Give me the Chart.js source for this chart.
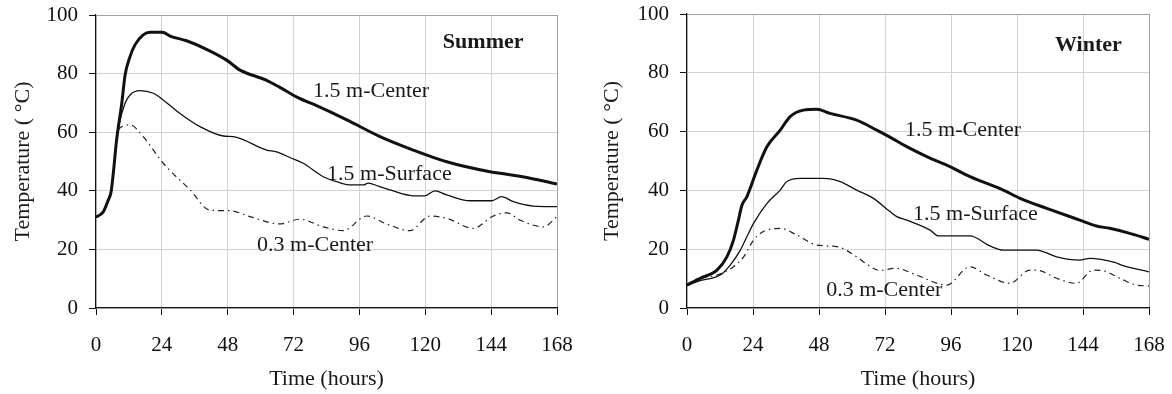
<!DOCTYPE html>
<html>
<head>
<meta charset="utf-8">
<title>Temperature vs time</title>
<script src="https://cdn.jsdelivr.net/npm/chart.js@4.4.1/dist/chart.umd.min.js"></script>
<style>
  html, body { margin: 0; padding: 0; background: #fff; }
  #wrap { position: relative; width: 1172px; height: 394px; }
  .box { position: absolute; top: 0; width: 586px; height: 394px; }
</style>
</head>
<body>
<div id="wrap">
  <div class="box" style="left:0"><canvas id="summer" width="586" height="394"></canvas></div>
  <div class="box" style="left:586px"><canvas id="winter" width="586" height="394"></canvas></div>
</div>
<script>
'use strict';

//////////////////// data ////////////////////
const xTicks = [0, 24, 48, 72, 96, 120, 144, 168];
const yTicks = [0, 20, 40, 60, 80, 100];

// summer
const summerCenterHours = [0, 2.7, 4.5, 5.5, 6.3, 7.5, 9.4, 10.6, 12.4, 14.2, 17.2, 19.7, 24.2, 27, 33, 40.3, 47.6, 52.5, 62, 67, 74, 80, 91.4, 103.5, 115.6, 127.8, 143.6, 147.2, 158.2, 168];
const summerCenterTemp = [31, 32.9, 36.9, 39.7, 46, 57.3, 69.9, 79.5, 85.8, 89.8, 93.2, 94.1, 94.1, 92.8, 91.2, 88.3, 84.6, 81.2, 77.8, 75.3, 71.6, 69.2, 64.2, 58.5, 53.9, 49.9, 46.5, 46, 44.3, 42.3];

const summerSurfaceHours = [0, 2.7, 4.5, 5.5, 6.3, 7.5, 8.5, 10.6, 12.4, 16, 20.9, 24.5, 30.6, 37.9, 46.4, 50, 62.2, 65.8, 71, 75.5, 82.8, 87.7, 92.6, 97.4, 99.2, 102.9, 107.1, 115.6, 119.9, 123.5, 127.8, 136.3, 144.2, 147.8, 152.1, 159.4, 168];
const summerSurfaceTemp = [31, 32.9, 36.9, 39.7, 46, 57.3, 63, 69.9, 72.7, 74.2, 73.3, 71, 66.4, 61.9, 58.7, 58.5, 53.9, 53.3, 51.2, 49.4, 44.8, 43.1, 42, 42, 42.6, 41.6, 40.3, 38.3, 38.3, 40, 38.6, 36.6, 36.6, 38, 36.3, 34.8, 34.6];

const summerShallowHours = [0, 2.7, 4.5, 5.5, 6.5, 8.1, 12.4, 17.2, 24.5, 34.3, 41.5, 48.8, 56.1, 67, 74.3, 82.8, 90.1, 98.6, 105.9, 114.4, 121.7, 127.8, 137.5, 144.8, 149.7, 154.5, 163, 168];
const summerShallowTemp = [31, 32.9, 36.9, 40, 48, 60.8, 62.5, 58.5, 49.4, 40.3, 33.4, 33.2, 31.2, 28.7, 30.3, 27.7, 26.4, 31.4, 28.7, 26.4, 31.4, 30.6, 27.2, 31.4, 32.5, 30, 27.7, 31.2];

// winter
const winterCenterHours = [0, 4.8, 10.9, 14.5, 16.9, 18.7, 20, 21.8, 25.4, 29.1, 33.9, 37.5, 42.3, 47.2, 52, 61.7, 69, 73.8, 79.9, 87.2, 95.6, 102.9, 115, 121.1, 130.8, 142.8, 148.9, 153.7, 161, 168];
const winterCenterTemp = [7.8, 10.1, 12.9, 17.4, 23.1, 29.9, 35, 37.9, 46.9, 54.9, 60.5, 65.1, 67.3, 67.6, 66.2, 63.9, 60.5, 58.1, 54.9, 51.5, 48.1, 44.7, 40.1, 37.3, 33.9, 29.9, 27.9, 27.1, 25.4, 23.4];

const winterSurfaceHours = [0, 4.8, 12.1, 15.7, 19.4, 21.8, 24.2, 29.1, 33.9, 36.3, 41.2, 49.6, 55.7, 61.7, 67.8, 73.8, 76.3, 79.9, 88.4, 91.4, 102.9, 110.2, 115, 127.1, 134.4, 142.8, 146.5, 155.5, 158.6, 168];
const winterSurfaceTemp = [7.8, 9.3, 11.2, 14.6, 19.7, 24.3, 28.8, 35.6, 40.1, 43, 44.1, 44.1, 43, 40.1, 37.3, 32.8, 31.1, 29.9, 26.5, 24.5, 24.5, 21.1, 19.7, 19.7, 17.4, 16.3, 16.9, 15.5, 14.4, 12.3];

const winterShallowHours = [0, 4, 11, 16.9, 20.6, 24.2, 27.8, 33.9, 40, 47.2, 54.5, 61.7, 66, 70, 76, 83.5, 94.4, 102.9, 109, 117.4, 124.7, 128.3, 134.4, 141.6, 147.7, 151.3, 157.4, 163.4, 168];
const winterShallowTemp = [8, 10, 11.2, 14, 17.4, 23.1, 26, 27.1, 24.8, 21.4, 20.9, 17.4, 14.5, 12.8, 13.5, 11.2, 7.8, 14, 11.2, 8.4, 12.9, 12.7, 10.1, 8.4, 12.9, 12.7, 10.1, 7.8, 7.5];

//helper functions
const serif = '"Liberation Serif", "Times New Roman", serif';

function pairs(hours, temps) {
  const out = [];
  for (let i = 0; i < hours.length; i++) {
    out.push({ x: hours[i], y: temps[i] });
  }
  return out;
}

/////////////////// text on the curves ///////////////////
const curveLabels = {
  id: 'curveLabels',
  afterDatasetsDraw(chart, args, opts) {
    const ctx = chart.ctx;
    const xs = chart.scales.x;
    const ys = chart.scales.y;
    ctx.save();
    ctx.fillStyle = '#1a1a1a';
    ctx.textAlign = 'left';
    ctx.textBaseline = 'middle';
    opts.items.forEach(function (l) {
      ctx.font = (l.bold ? 'bold ' : '') + l.size + 'px ' + serif;
      ctx.fillText(l.text, xs.getPixelForValue(l.x), ys.getPixelForValue(l.y));
    });
    ctx.restore();
  }
};

/////////////////// build one chart ///////////////////
function makeChart(id, series, labels, box) {
  const ctx = document.getElementById(id).getContext('2d');
  return new Chart(ctx, {
    type: 'line',
    data: {
      datasets: [
        {
          label: '1.5 m-Center',
          data: pairs(series[0][0], series[0][1]),
          borderColor: '#111',
          borderWidth: 3,
          pointRadius: 0,
          cubicInterpolationMode: 'monotone'
        },
        {
          label: '1.5 m-Surface',
          data: pairs(series[1][0], series[1][1]),
          borderColor: '#111',
          borderWidth: 1.3,
          pointRadius: 0,
          cubicInterpolationMode: 'monotone'
        },
        {
          label: '0.3 m-Center',
          data: pairs(series[2][0], series[2][1]),
          borderColor: '#222',
          borderWidth: 1.2,
          borderDash: [6, 4, 1.5, 4],
          pointRadius: 0,
          cubicInterpolationMode: 'monotone'
        }
      ]
    },
    options: {
      responsive: false,
      animation: false,
      layout: { padding: { left: 0, right: box.padRight, top: box.padTop, bottom: 0 } },
      plugins: {
        legend: { display: false },
        tooltip: { enabled: false },
        curveLabels: { items: labels }
      },
      scales: {
        x: {
          type: 'linear',
          min: 0,
          max: 168,
          afterBuildTicks: function (scale) {
            scale.ticks = xTicks.map(function (v) { return { value: v }; });
          },
          // fixed box, ignore label overhang so the plot lines up
          afterFit: function (scale) {
            scale.height = 86;
            scale.paddingLeft = 0;
            scale.paddingRight = 0;
          },
          ticks: { color: '#111', padding: 18, font: { family: serif, size: 21 } },
          grid: {
            color: function (c) { return c.tick && c.tick.value === 168 ? '#a0a0a0' : '#d2d2d2'; },
            tickColor: '#111',
            tickLength: 7
          },
          border: { color: '#111', width: 1.2 },
          title: {
            display: true,
            text: 'Time (hours)',
            color: '#1a1a1a',
            font: { family: serif, size: 22 },
            padding: { top: 0, bottom: 2 }
          }
        },
        y: {
          min: 0,
          max: 100,
          afterBuildTicks: function (scale) {
            scale.ticks = yTicks.map(function (v) { return { value: v }; });
          },
          afterFit: function (scale) {
            scale.width = box.yWidth;
            scale.paddingTop = 0;
            scale.paddingBottom = 0;
          },
          ticks: { color: '#111', padding: 11, font: { family: serif, size: 21 } },
          grid: {
            color: function (c) { return c.tick && c.tick.value === 100 ? '#a0a0a0' : '#d2d2d2'; },
            tickColor: '#111',
            tickLength: 7
          },
          border: { color: '#111', width: 1.2 },
          title: {
            display: true,
            text: 'Temperature ( °C)',
            color: '#1a1a1a',
            font: { family: serif, size: 22 },
            padding: { top: box.titlePad, bottom: 0 }
          }
        }
      }
    },
    plugins: [curveLabels]
  });
}

const summerChart = makeChart('summer',
  [[summerCenterHours, summerCenterTemp], [summerSurfaceHours, summerSurfaceTemp], [summerShallowHours, summerShallowTemp]],
  [
    { text: 'Summer', x: 126.4, y: 90.8, size: 22, bold: true },
    { text: '1.5 m-Center', x: 79.1, y: 74, size: 22 },
    { text: '1.5 m-Surface', x: 84.2, y: 45.7, size: 22 },
    { text: '0.3 m-Center', x: 58.7, y: 21.5, size: 22 }
  ],
  { yWidth: 96, padRight: 29, padTop: 15, titlePad: 10 }
);

const winterChart = makeChart('winter',
  [[winterCenterHours, winterCenterTemp], [winterSurfaceHours, winterSurfaceTemp], [winterShallowHours, winterShallowTemp]],
  [
    { text: 'Winter', x: 133.8, y: 89.5, size: 22, bold: true },
    { text: '1.5 m-Center', x: 79.3, y: 60.5, size: 22 },
    { text: '1.5 m-Surface', x: 82.2, y: 32, size: 22 },
    { text: '0.3 m-Center', x: 50.6, y: 6, size: 22 }
  ],
  { yWidth: 101, padRight: 23, padTop: 14, titlePad: 13 }
);
</script>
</body>
</html>
